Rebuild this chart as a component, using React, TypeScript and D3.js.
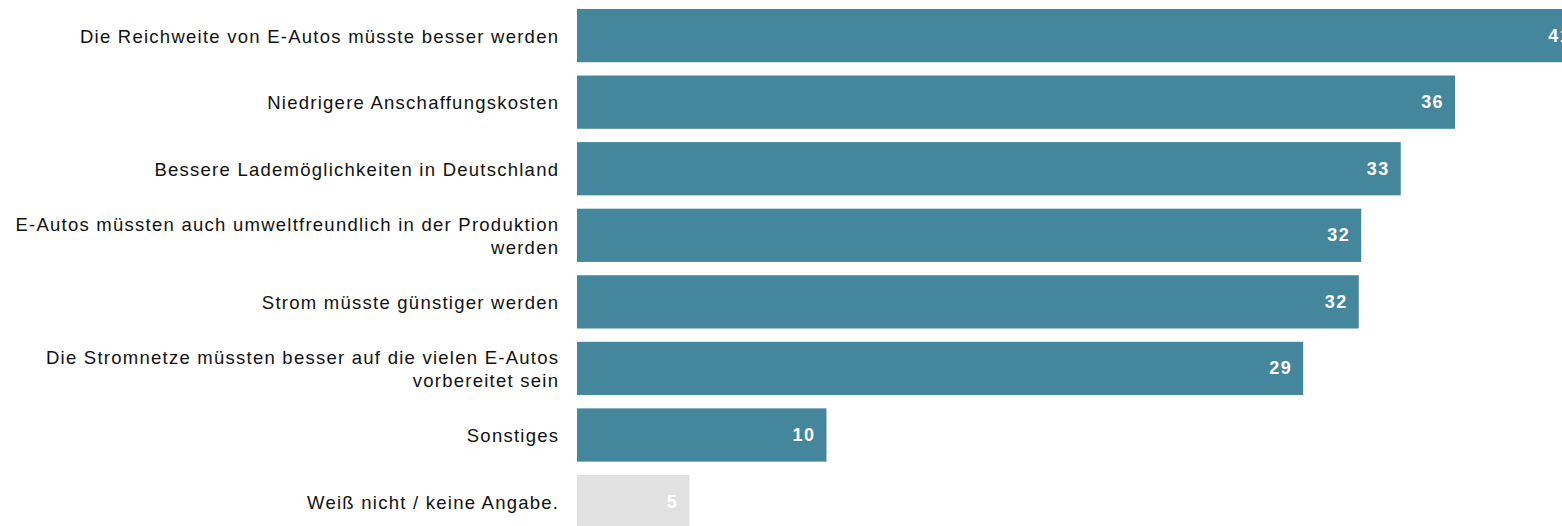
import React from "react";
import * as d3 from "d3";

const categories: string[][] = [
  ["Die Reichweite von E-Autos müsste besser werden"],
  ["Niedrigere Anschaffungskosten"],
  ["Bessere Lademöglichkeiten in Deutschland"],
  ["E-Autos müssten auch umweltfreundlich in der Produktion", "werden"],
  ["Strom müsste günstiger werden"],
  ["Die Stromnetze müssten besser auf die vielen E-Autos", "vorbereitet sein"],
  ["Sonstiges"],
  ["Weiß nicht / keine Angabe."],
];
const values: number[] = [40.7, 35.55, 33.35, 31.75, 31.65, 29.4, 10.1, 4.55];
const labels: string[] = ["41", "36", "33", "32", "32", "29", "10", "5"];
const barColors: string[] = ["#44869c", "#44869c", "#44869c", "#44869c", "#44869c", "#44869c", "#44869c", "#e1e1e1"];

const W = 1562;
const H = 526;
const X0 = 577;
const PX_PER_UNIT = 24.7;

export default function App() {
  const x = d3.scaleLinear().domain([0, 40]).range([X0, X0 + 40 * PX_PER_UNIT]);
  const idx = categories.map((_, i) => String(i));
  const step = 66.57;
  const y = d3
    .scaleBand<string>()
    .domain(idx)
    .range([2.3, 2.3 + step * 8])
    .paddingInner(0.2)
    .paddingOuter(0.1);
  const bw = y.bandwidth();
  const font = "'Liberation Sans', Arial, sans-serif";
  const lineH = 23;
  const catLS = 1.25;
  const valLS = 1.4;
  const labelX = 558 + catLS;
  return (
    <svg
      width={W}
      height={H}
      style={{ position: "absolute", left: 0, top: 0, background: "#fff" }}
    >
      {categories.map((lines, i) => {
        const y0 = (y(String(i)) as number) + bw / 2;
        const v = values[i];
        const top = y0 - ((lines.length - 1) * lineH) / 2;
        return (
          <g key={i}>
            <rect x={x(0)} y={y(String(i))} width={x(v) - x(0)} height={bw} fill={barColors[i]} />
            <text
              x={labelX}
              y={top}
              textAnchor="end"
              fontFamily={font}
              fontSize={18.5}
              letterSpacing={catLS}
              fill="#111111"
              dominantBaseline="central"
            >
              {lines.map((l, j) => (
                <tspan key={j} x={labelX} y={top + j * lineH}>
                  {l}
                </tspan>
              ))}
            </text>
            <text
              x={x(v) - 12.5 + valLS}
              y={y0}
              textAnchor="end"
              dominantBaseline="central"
              fontFamily={font}
              fontWeight="bold"
              fontSize={18}
              letterSpacing={valLS}
              fill="#ffffff"
            >
              {labels[i]}
            </text>
          </g>
        );
      })}
    </svg>
  );
}
